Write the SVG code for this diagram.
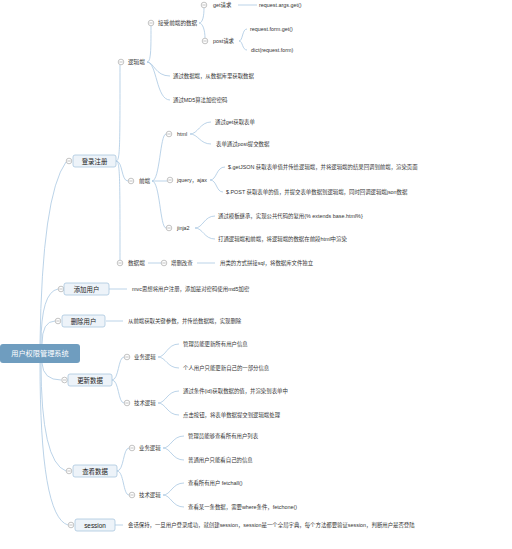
<svg xmlns="http://www.w3.org/2000/svg" xmlns:xlink="http://www.w3.org/1999/xlink" width="512" height="549" viewBox="0 0 512 549">
<style>
text{font-family:"Liberation Sans","Noto Sans CJK SC",sans-serif;dominant-baseline:central;fill:#333}
.s{font-size:5.4px}
.m{font-size:5.6px}
.b{font-size:6.4px;text-anchor:middle;fill:#222}
.r{font-size:7.2px;text-anchor:middle;fill:#fff}
.box{fill:#edf3f9;stroke:#a9c6de;stroke-width:0.8}
.root{fill:#6f9dbf}
#links path{fill:none;stroke:#a9c8e2;stroke-width:0.8}
.col circle{fill:#fff;stroke:#9a9a9a;stroke-width:0.6}
.col path{stroke:#9a9a9a;stroke-width:0.6}
</style>
<defs>
<g id="col" class="col"><circle r="2.8"/><path d="M-1.7,0H1.7"/></g>
</defs>
<rect width="512" height="549" fill="#fff"/>
<g id="links">
<!-- root -->
<path d="M40,344 Q42,195 66,162"/>
<path d="M41,344 Q41,292 58,289"/>
<path d="M42,344 Q42,321 55,321"/>
<path d="M42,363 Q43,380 61,380"/>
<path d="M41,363 Q41,462 66,471"/>
<path d="M40,363 Q40,517 68,525"/>
<!-- 登录注册 -->
<path d="M116,161 C120,161 120,150 120,65"/>
<path d="M116,161 C123,161 121,181 128,181"/>
<path d="M116,161 C120,161 120,175 120,260"/>
<!-- 逻辑端 -->
<path d="M147,62 C151,62 151,50 151,26"/>
<path d="M147,62 C154,62 155,76 170,76"/>
<path d="M147,62 C157,62 156,100 170,100"/>
<!-- 接受前端的数据 -->
<path d="M199,23 C203,23 204,15 204,8"/>
<path d="M199,23 C203,23 205,31 205,38"/>
<path d="M238,5 H257"/>
<path d="M239,41 C243,41 242,29 247,29"/>
<path d="M239,41 C243,41 242,50 247,50"/>
<!-- 前端 -->
<path d="M152,181 C160,181 160,134 166,134"/>
<path d="M152,181 H167"/>
<path d="M152,181 C160,181 160,228 166,228"/>
<path d="M190,134 C198,134 200,122 211,122"/>
<path d="M190,134 C198,134 200,144 211,144"/>
<path d="M210,180 C217,180 216,167 225,167"/>
<path d="M210,180 C217,180 216,192 223,192"/>
<path d="M195,228 C203,228 204,216 215,216"/>
<path d="M195,228 C203,228 204,239 215,239"/>
<!-- 数据端 -->
<path d="M148,263 H161"/>
<path d="M197,263 H215"/>
<!-- 添加 / 删除 -->
<path d="M109,289 H127"/>
<path d="M106,321 H123"/>
<!-- 更新数据 -->
<path d="M112,380 C119,380 118,357 124,357"/>
<path d="M112,380 C119,380 118,403 124,403"/>
<path d="M158,357 C166,357 167,344 179,344"/>
<path d="M158,357 C166,357 167,368 179,368"/>
<path d="M158,403 C166,403 167,391 179,391"/>
<path d="M158,403 C166,403 167,415 179,415"/>
<!-- 查看数据 -->
<path d="M117,471 C124,471 123,448 129,448"/>
<path d="M117,471 C124,471 123,495 129,495"/>
<path d="M163,448 C171,448 172,436 184,436"/>
<path d="M163,448 C171,448 172,460 184,460"/>
<path d="M163,495 C171,495 172,483 184,483"/>
<path d="M163,495 C171,495 172,507 184,507"/>
<!-- session -->
<path d="M115,525 H123"/>
</g>

<g id="root"><rect class="root" x="0" y="344" width="80" height="19" rx="3"/><text class="r" x="40" y="353.5">用户权限管理系统</text></g>

<g id="n-login"><use href="#col" x="69" y="161"/><rect class="box" x="73" y="155" width="43" height="12" rx="2"/><text class="b" x="94.5" y="161">登录注册</text></g>
<g id="n-logic"><use href="#col" x="121" y="62"/><text class="m" x="128" y="62">逻辑端</text></g>
<g id="n-recv"><use href="#col" x="151" y="23"/><text class="m" x="158" y="23">接受前端的数据</text></g>
<g id="n-get"><use href="#col" x="204" y="5"/><text class="s" x="213" y="5">get请求</text></g>
<g id="n-get1"><text class="s" x="259" y="5">request.args.get()</text></g>
<g id="n-post"><use href="#col" x="205" y="41"/><text class="s" x="213" y="41">post请求</text></g>
<g id="n-post1"><text class="s" x="250" y="29">request.form.get()</text></g>
<g id="n-post2"><text class="s" x="251" y="50">dict(request.form)</text></g>
<g id="n-db1"><text class="s" x="173" y="76">通过数据端，从数据库里获取数据</text></g>
<g id="n-md5"><text class="s" x="173" y="100">通过MD5算法加密密码</text></g>
<g id="n-front"><use href="#col" x="131" y="181"/><text class="m" x="139" y="181">前端</text></g>
<g id="n-html"><use href="#col" x="169" y="134"/><text class="s" x="177" y="134">html</text></g>
<g id="n-html1"><text class="s" x="215" y="122">通过get获取表单</text></g>
<g id="n-html2"><text class="s" x="216" y="144">表单通过post提交数据</text></g>
<g id="n-jq"><use href="#col" x="170" y="180"/><text class="s" x="177" y="180">jquery，ajax</text></g>
<g id="n-jq1"><text class="s" x="228" y="167">$.getJSON 获取表单值并传给逻辑端，并将逻辑端的结果回调到前端，渲染页面</text></g>
<g id="n-jq2"><text class="s" x="226" y="192">$.POST 获取表单的值，并提交表单数据到逻辑端，同时回调逻辑端json数据</text></g>
<g id="n-jinja"><use href="#col" x="169" y="228"/><text class="s" x="177" y="228">jinja2</text></g>
<g id="n-jinja1"><text class="s" x="218" y="216">通过模板继承，实现公共代码的复用{% extends base.html%}</text></g>
<g id="n-jinja2"><text class="s" x="218" y="239">打通逻辑端和前端，将逻辑端的数据在前段html中渲染</text></g>
<g id="n-data"><use href="#col" x="120" y="263"/><text class="m" x="128" y="263">数据端</text></g>
<g id="n-crud"><use href="#col" x="164" y="263"/><text class="s" x="171" y="263">增删改查</text></g>
<g id="n-crud1"><text class="s" x="220" y="263">用类的方式拼接sql，将数据库文件独立</text></g>

<g id="n-add"><use href="#col" x="61" y="289"/><rect class="box" x="64" y="283" width="45" height="12" rx="2"/><text class="b" x="86.5" y="289">添加用户</text></g>
<g id="n-add1"><text class="s" x="132" y="289">mvc思想将用户注册，添加是对密码使用md5加密</text></g>
<g id="n-del"><use href="#col" x="58" y="321"/><rect class="box" x="62" y="315" width="43" height="12" rx="2"/><text class="b" x="83.5" y="321">删除用户</text></g>
<g id="n-del1"><text class="s" x="128" y="321">从前端获取关键参数，并传给数据端，实现删除</text></g>

<g id="n-upd"><use href="#col" x="64.5" y="380"/><rect class="box" x="68" y="374" width="44" height="12" rx="2"/><text class="b" x="90" y="380">更新数据</text></g>
<g id="n-upd-biz"><use href="#col" x="127" y="357"/><text class="s" x="134" y="357">业务逻辑</text></g>
<g id="n-upd-biz1"><text class="s" x="183" y="344">管理员能更新所有用户信息</text></g>
<g id="n-upd-biz2"><text class="s" x="183" y="368">个人用户只能更新自己的一部分信息</text></g>
<g id="n-upd-tech"><use href="#col" x="127" y="403"/><text class="s" x="134" y="403">技术逻辑</text></g>
<g id="n-upd-tech1"><text class="s" x="183" y="391">通过条件(id)获取数据的值，并渲染到表单中</text></g>
<g id="n-upd-tech2"><text class="s" x="183" y="415">点击按钮，将表单数据提交到逻辑端处理</text></g>

<g id="n-view"><use href="#col" x="69" y="471"/><rect class="box" x="73" y="465" width="44" height="12" rx="2"/><text class="b" x="95" y="471">查看数据</text></g>
<g id="n-view-biz"><use href="#col" x="132" y="448"/><text class="s" x="139" y="448">业务逻辑</text></g>
<g id="n-view-biz1"><text class="s" x="188" y="436">管理员能够查看所有用户列表</text></g>
<g id="n-view-biz2"><text class="s" x="188" y="460">普通用户只能看自己的信息</text></g>
<g id="n-view-tech"><use href="#col" x="132" y="495"/><text class="s" x="139" y="495">技术逻辑</text></g>
<g id="n-view-tech1"><text class="s" x="188" y="483">查看所有用户 fetchall()</text></g>
<g id="n-view-tech2"><text class="s" x="188" y="507">查看某一条数据，需要where条件，fetchone()</text></g>

<g id="n-session"><use href="#col" x="71" y="525"/><rect class="box" x="75" y="519" width="40" height="12" rx="2"/><text class="b" x="95" y="525">session</text></g>
<g id="n-session1"><text class="s" x="128" y="525">会话保持，一旦用户登录成功，就创建session，session是一个全局字典，每个方法都要验证session，判断用户是否登陆</text></g>
</svg>
